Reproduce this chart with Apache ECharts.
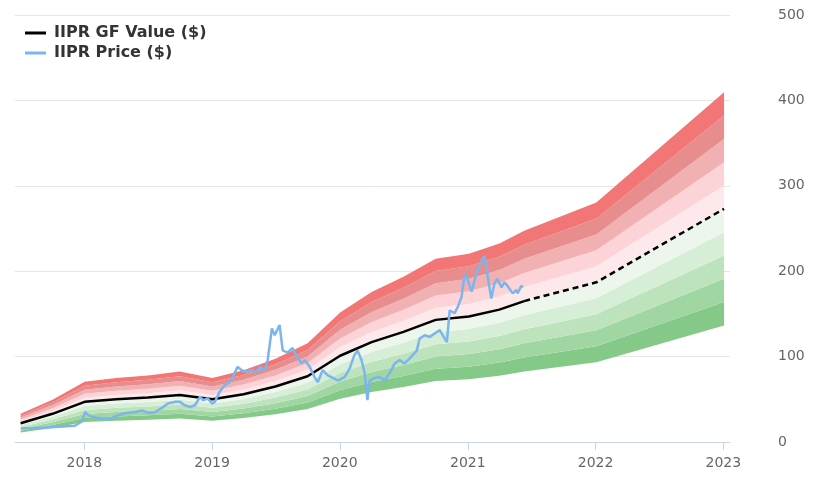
<!DOCTYPE html>
<html>
<head>
<meta charset="utf-8">
<script src="https://cdn.jsdelivr.net/npm/echarts@6/dist/echarts.min.js"></script>
<style>html,body{margin:0;padding:0;background:#fff}#c{width:820px;height:492px}</style>
</head>
<body>
<div id="c"></div>
<script>
// GF Value (quarterly, solid part)
const gfDates = ['2017-07-03','2017-10-02','2018-01-02','2018-04-02','2018-07-02','2018-10-01','2019-01-02','2019-04-01','2019-07-01','2019-10-01','2020-01-02','2020-04-01','2020-07-01','2020-10-01','2021-01-04','2021-04-01','2021-06-11'];
const gfValues = [22,33,47,50,52,55,50,56,65,77,101,117,129,143,147,155,165];
// GF Value projection (dashed)
const projDates = ['2021-06-11','2022-01-03','2023-01-03'];
const projValues = [165,187,273];
// Band multipliers
const bandMults = [0.5,0.6,0.7,0.8,0.9,1.0,1.1,1.2,1.3,1.4,1.5];
const bandColors = ['#84c987','#a0d6a1','#bde3bd','#d6edd6','#ecf6ec','#fde9eb','#fcd3d6','#f1b0b1','#e88d8d','#f27676'];
// Price
const priceDates = ['2017-07-04','2017-08-13','2017-10-09','2017-12-05','2017-12-25','2018-01-03','2018-01-18','2018-02-10','2018-03-07','2018-03-30','2018-04-28','2018-05-26','2018-06-15','2018-07-02','2018-07-22','2018-08-11','2018-08-28','2018-09-17','2018-10-01','2018-10-15','2018-10-30','2018-11-13','2018-11-28','2018-12-06','2018-12-20','2019-01-01','2019-01-09','2019-01-23','2019-02-07','2019-02-21','2019-03-01','2019-03-15','2019-03-27','2019-04-10','2019-04-24','2019-05-09','2019-05-17','2019-06-01','2019-06-09','2019-06-21','2019-06-29','2019-07-13','2019-07-22','2019-08-05','2019-08-19','2019-08-31','2019-09-14','2019-09-23','2019-10-07','2019-10-21','2019-10-30','2019-11-13','2019-11-28','2019-12-12','2019-12-26','2020-01-15','2020-01-29','2020-02-12','2020-02-21','2020-03-03','2020-03-12','2020-03-20','2020-03-26','2020-04-10','2020-04-24','2020-05-08','2020-05-23','2020-06-06','2020-06-20','2020-07-04','2020-07-19','2020-08-08','2020-08-16','2020-08-31','2020-09-14','2020-09-28','2020-10-13','2020-10-21','2020-11-02','2020-11-10','2020-11-24','2020-12-03','2020-12-14','2020-12-23','2021-01-01','2021-01-12','2021-01-21','2021-01-29','2021-02-10','2021-02-18','2021-02-27','2021-03-09','2021-03-18','2021-03-26','2021-04-07','2021-04-15','2021-04-24','2021-05-09','2021-05-20','2021-05-23','2021-06-03','2021-06-07'];
const priceValues = [16,16,17.5,19,24,35,30,28,26,30,34,35,37,34,35,40,45,47,47,43,41,43,53,49,51,45,47,59,67,70,76,88,84,82,84,82,88,84,96,133,125,137,107,105,110,100,92,96,88,76,70,84,78,75,72,76,86,102,107,96,81,49,72,75,76,72,81,92,96,92,98,107,121,125,123,127,131,125,117,154,151,158,170,197,189,176,191,201,213,218,193,168,186,191,181,187,183,174,178,174,183,181];
const yTicks = [0,100,200,300,400,500];

const allDates = gfDates.concat(projDates.slice(1));
const allValues = gfValues.concat(projValues.slice(1));

const series = [];
series.push({
  name: 'base', type: 'line', stack: 'band', symbol: 'none', silent: true,
  lineStyle: {width: 0, opacity: 0},
  data: allDates.map((d, i) => [d, allValues[i] * bandMults[0]])
});
for (let k = 0; k < bandColors.length; k++) {
  series.push({
    name: 'band' + k, type: 'line', stack: 'band', symbol: 'none', silent: true,
    lineStyle: {width: 0, opacity: 0},
    areaStyle: {color: bandColors[k], opacity: 1},
    data: allDates.map((d, i) => [d, allValues[i] * (bandMults[k + 1] - bandMults[k])])
  });
}
series.push({
  name: 'IIPR GF Value ($)', type: 'line', symbol: 'none', z: 5,
  lineStyle: {color: '#000', width: 2.5},
  itemStyle: {color: '#000'},
  data: gfDates.map((d, i) => [d, gfValues[i]])
});
series.push({
  name: 'proj', type: 'line', symbol: 'none', z: 5,
  lineStyle: {color: '#000', width: 2.5, type: [6, 4]},
  data: projDates.map((d, i) => [d, projValues[i]])
});
series.push({
  name: 'IIPR Price ($)', type: 'line', symbol: 'none', z: 6,
  lineStyle: {color: '#7cb5ec', width: 2.5},
  itemStyle: {color: '#7cb5ec'},
  data: priceDates.map((d, i) => [d, priceValues[i]])
});

const chart = echarts.init(document.getElementById('c'), null, {renderer: 'canvas'});
chart.setOption({
  animation: false,
  textStyle: {fontFamily: 'DejaVu Sans'},
  grid: {left: 15, right: 90, top: 15, bottom: 50},
  legend: {
    data: [{name: 'IIPR GF Value ($)', icon: 'rect'}, {name: 'IIPR Price ($)', icon: 'rect'}],
    orient: 'vertical', left: 20, top: 20, itemGap: 4,
    itemWidth: 21, itemHeight: 3,
    textStyle: {fontSize: 16, fontWeight: 'bold', color: '#333', fontFamily: 'DejaVu Sans', padding: [0, 0, 0, 3]}
  },
  xAxis: {
    type: 'time',
    min: '2017-06-17', max: '2023-01-20',
    minInterval: 365 * 86400000, maxInterval: 366 * 86400000,
    axisLine: {lineStyle: {color: '#ccd6eb'}},
    axisTick: {show: true, length: 8, lineStyle: {color: '#ccd6eb'}},
    axisLabel: {color: '#666', fontSize: 14, margin: 14, formatter: '{yyyy}', fontFamily: 'DejaVu Sans'},
    splitLine: {show: false}
  },
  yAxis: {
    type: 'value', position: 'right', min: yTicks[0], max: yTicks[yTicks.length - 1], interval: 100,
    axisLine: {show: false}, axisTick: {show: false},
    axisLabel: {color: '#666', fontSize: 14, margin: 48, fontFamily: 'DejaVu Sans'},
    splitLine: {lineStyle: {color: '#e6e6e6'}}
  },
  series: series
});
</script>
</body>
</html>
